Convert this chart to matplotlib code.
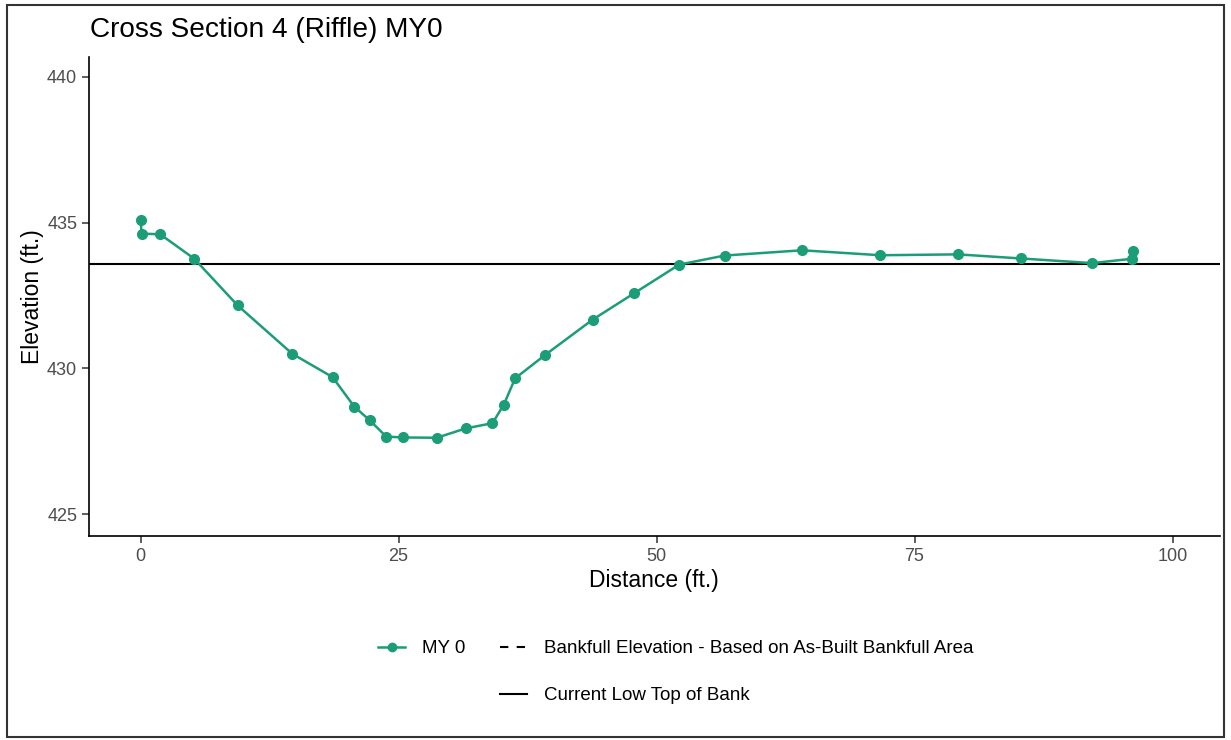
import matplotlib.pyplot as plt
from matplotlib.lines import Line2D
from matplotlib.patches import Rectangle

plt.rcParams['font.family'] = ['Liberation Sans', 'DejaVu Sans']

# survey points (distance ft, elevation ft)
distance = [0.0, 0.1, 1.9, 5.2, 9.4, 14.7, 18.6, 20.7, 22.2, 23.8, 25.4, 28.7,
            31.5, 34.1, 35.2, 36.3, 39.2, 43.8, 47.8, 52.2, 56.6, 64.1, 71.7,
            79.2, 85.3, 92.2, 96.1, 96.2]
elevation = [435.08, 434.62, 434.60, 433.76, 432.16, 430.50, 429.70, 428.69,
             428.22, 427.66, 427.63, 427.62, 427.94, 428.12, 428.76, 429.66,
             430.46, 431.67, 432.57, 433.56, 433.87, 434.05, 433.88, 433.91,
             433.77, 433.61, 433.76, 434.02]
low_top_of_bank = 433.57

x_ticks = [0, 25, 50, 75, 100]
y_ticks = [425, 430, 435, 440]

green = '#1B9E77'
tick_color = '#4D4D4D'

fig = plt.figure(figsize=(12.31, 7.40), dpi=100)
ax = fig.add_axes([89 / 1231, 1 - 536 / 740, (1220 - 89) / 1231, (536 - 57) / 740])

ax.plot(distance, elevation, color=green, lw=1.8, marker='o', ms=7, zorder=3)
ax.axhline(low_top_of_bank, color='black', lw=1.5, zorder=2)

ax.set_xlim(-5.0, 104.6)
ax.set_ylim(424.25, 440.68)
ax.set_xticks(x_ticks)
ax.set_yticks(y_ticks)
ax.tick_params(labelsize=13, colors='#333333', labelcolor=tick_color, length=5, width=1.1)
for side in ['top', 'right']:
    ax.spines[side].set_visible(False)
for side in ['left', 'bottom']:
    ax.spines[side].set_linewidth(1.2)

fig.text(654 / 1231, 1 - 580 / 740, 'Distance (ft.)', fontsize=16.5, ha='center', va='center')
fig.text(32 / 1231, 1 - 297 / 740, 'Elevation (ft.)', fontsize=16.5, ha='center', va='center',
         rotation=90)
fig.text(90 / 1231, 1 - 30 / 740, 'Cross Section 4 (Riffle) MY0', fontsize=20.2,
         ha='left', va='center')

# legend
handles = [
    Line2D([], [], color=green, lw=1.8, marker='o', ms=6, label='MY 0'),
    Line2D([], [], alpha=0, label=' '),
    Line2D([], [], color='black', lw=1.5, ls=(0, (4, 4)),
           label='Bankfull Elevation - Based on As-Built Bankfull Area'),
    Line2D([], [], color='black', lw=1.5, label='Current Low Top of Bank'),
]
fig.legend(handles=handles, ncol=2, loc='upper left',
           bbox_to_anchor=(378 / 1231, 1 - 640 / 740), frameon=False, fontsize=13.5,
           handlelength=1.45, handletextpad=0.9, columnspacing=1.85, labelspacing=1.6,
           borderpad=0, borderaxespad=0)

fig.add_artist(Rectangle((7 / 1231, 3 / 740), 1217 / 1231, 732 / 740,
                         transform=fig.transFigure, fill=False, edgecolor='#333333', lw=1.5))

fig.savefig('out.png', dpi=100)
